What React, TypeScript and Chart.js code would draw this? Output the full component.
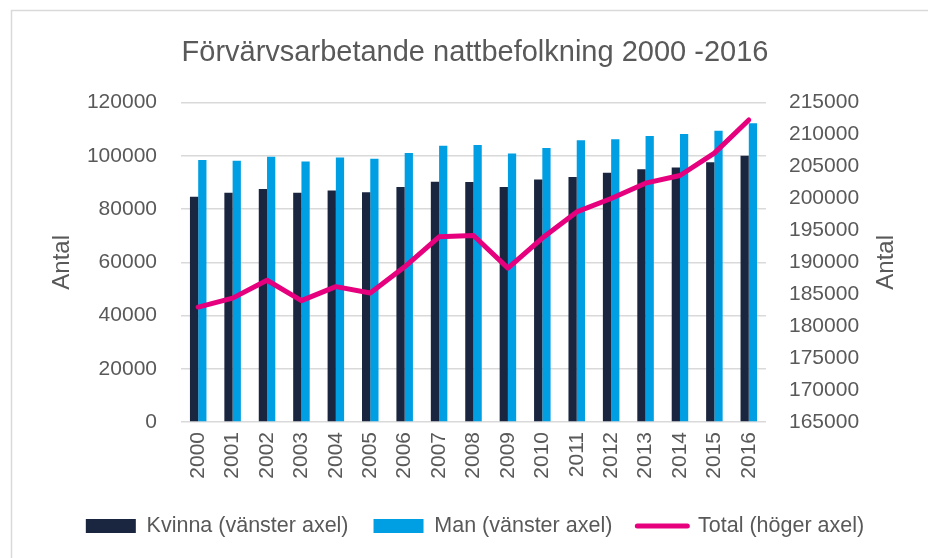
import React, { useEffect, useRef } from 'react';
import { Chart, registerables } from 'chart.js';

Chart.register(...registerables);

const years = ['2000', '2001', '2002', '2003', '2004', '2005', '2006', '2007', '2008', '2009', '2010', '2011', '2012', '2013', '2014', '2015', '2016'];
const kvinna = [84700, 86200, 87600, 86200, 87000, 86300, 88300, 90300, 90200, 88300, 91100, 92100, 93700, 95000, 95600, 97600, 100100];
const man = [98500, 98200, 99700, 97900, 99400, 98900, 101100, 103800, 104100, 100900, 103000, 105900, 106300, 107500, 108200, 109500, 112300];
const total = [183000, 184400, 187200, 184000, 186200, 185200, 189300, 194000, 194200, 189100, 193800, 197900, 200000, 202400, 203600, 207100, 212300];

const titleText = 'Förvärvsarbetande nattbefolkning 2000 -2016';
const axisTitle = 'Antal';
const seriesLabels = ['Kvinna (vänster axel)', 'Man (vänster axel)', 'Total (höger axel)'];

const FONT = "'Liberation Sans', Arial, sans-serif";
const GREY = '#595959';
const GRID = '#D9D9D9';
const C_KVINNA = '#1A2640';
const C_MAN = '#009FE3';
const C_TOTAL = '#E6007E';

const borderPlugin = {
  id: 'frameBorder',
  beforeDraw(chart: any) {
    const ctx = chart.ctx;
    ctx.save();
    ctx.fillStyle = '#ffffff';
    ctx.fillRect(0, 0, chart.width, chart.height);
    ctx.strokeStyle = GRID;
    ctx.lineWidth = 1.5;
    ctx.strokeRect(11.5, 10.5, chart.width + 20, chart.height + 20);
    ctx.restore();
  },
};

const rightTitlePlugin = {
  id: 'rightTitle',
  afterDraw(chart: any) {
    const s = chart.scales.y1;
    if (!s) return;
    const ctx = chart.ctx;
    ctx.save();
    ctx.translate(s.right - 42, (s.top + s.bottom) / 2);
    ctx.rotate(-Math.PI / 2);
    ctx.font = `24px ${FONT}`;
    ctx.fillStyle = GREY;
    ctx.textAlign = 'center';
    ctx.textBaseline = 'middle';
    ctx.fillText(axisTitle, 0, 0);
    ctx.restore();
  },
};

export default function App() {
  const ref = useRef<HTMLCanvasElement | null>(null);

  useEffect(() => {
    if (!ref.current) return;
    const chart = new Chart(ref.current, {
      type: 'bar',
      data: {
        labels: years,
        datasets: [
          {
            type: 'bar',
            label: seriesLabels[0],
            data: kvinna,
            backgroundColor: C_KVINNA,
            borderWidth: 0,
            yAxisID: 'y',
            categoryPercentage: 0.48,
            barPercentage: 1.0,
            order: 1,
          },
          {
            type: 'bar',
            label: seriesLabels[1],
            data: man,
            backgroundColor: C_MAN,
            borderWidth: 0,
            yAxisID: 'y',
            categoryPercentage: 0.48,
            barPercentage: 1.0,
            order: 1,
          },
          {
            type: 'line',
            label: seriesLabels[2],
            data: total,
            borderColor: C_TOTAL,
            backgroundColor: C_TOTAL,
            borderWidth: 5,
            pointRadius: 0,
            tension: 0,
            borderJoinStyle: 'round',
            borderCapStyle: 'round',
            yAxisID: 'y1',
            order: 0,
          } as any,
        ],
      },
      options: {
        responsive: false,
        animation: false,
        devicePixelRatio: 1,
        layout: { padding: { left: 22, right: 0, top: 0, bottom: 11.25 } },
        font: { family: FONT },
        plugins: {
          title: {
            display: true,
            text: titleText,
            color: GREY,
            font: { family: FONT, size: 29, weight: 'normal' },
            padding: { top: 36, bottom: 31.9 },
          },
          legend: {
            display: true,
            position: 'bottom',
            labels: {
              usePointStyle: true,
              pointStyleWidth: 50,
              boxHeight: 14,
              padding: 25,
              color: GREY,
              font: { family: FONT, size: 21.5 },
              generateLabels: (c: any) =>
                c.data.datasets.map((ds: any, i: number) => {
                  const isLine = ds.type === 'line';
                  return {
                    text: ds.label,
                    fillStyle: isLine ? ds.borderColor : ds.backgroundColor,
                    strokeStyle: isLine ? ds.borderColor : ds.backgroundColor,
                    lineWidth: isLine ? 5 : 0,
                    lineCap: 'round',
                    pointStyle: isLine ? 'line' : 'rect',
                    hidden: false,
                    datasetIndex: i,
                    fontColor: GREY,
                  };
                }),
            },
          },
          tooltip: { enabled: false },
        },
        scales: {
          x: {
            grid: { display: false, drawTicks: false },
            border: { display: false },
            ticks: {
              color: GREY,
              font: { family: FONT, size: 21 },
              padding: 10,
              minRotation: 90,
              maxRotation: 90,
              autoSkip: false,
            },
            afterFit: (s: any) => {
              s.height = 68.25;
            },
          },
          y: {
            type: 'linear',
            position: 'left',
            min: 0,
            max: 120000,
            ticks: {
              stepSize: 20000,
              padding: 24,
              color: GREY,
              font: { family: FONT, size: 21 },
              callback: (v: any) => String(v),
            },
            grid: { color: GRID, lineWidth: 1.5, drawTicks: false },
            border: { display: false },
            title: {
              display: true,
              text: axisTitle,
              color: GREY,
              font: { family: FONT, size: 24 },
              padding: { top: 25.6, bottom: 0 },
            },
            afterFit: (s: any) => {
              s.width = 159;
            },
          },
          y1: {
            type: 'linear',
            position: 'right',
            min: 165000,
            max: 215000,
            ticks: {
              stepSize: 5000,
              padding: 23,
              color: GREY,
              font: { family: FONT, size: 21 },
              callback: (v: any) => String(v),
            },
            grid: { display: false, drawTicks: false },
            border: { display: false },
            afterFit: (s: any) => {
              s.width = 162;
            },
          },
        },
      } as any,
      plugins: [borderPlugin, rightTitlePlugin],
    });
    return () => chart.destroy();
  }, []);

  return (
    <div style={{ position: 'absolute', left: 0, top: 0, width: 928, height: 558 }}>
      <canvas ref={ref} width={928} height={558} style={{ display: 'block', width: 928, height: 558 }} />
    </div>
  );
}
